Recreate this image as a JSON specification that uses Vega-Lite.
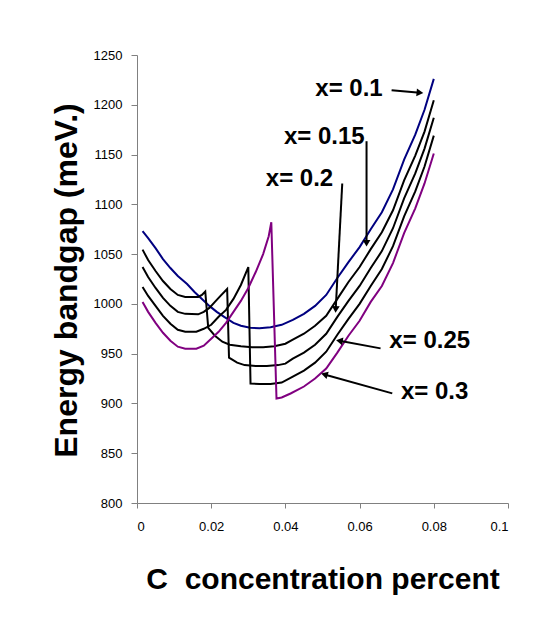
{
  "$schema": "https://vega.github.io/schema/vega-lite/v6.json",
  "width": 371,
  "height": 448,
  "autosize": {"type": "none"},
  "padding": {"left": 137, "top": 55, "right": 28, "bottom": 124},
  "background": "white",
  "config": {
    "view": {"stroke": null},
    "axis": {
      "grid": false,
      "domainColor": "#808080",
      "tickColor": "#808080",
      "labelFont": "Liberation Sans",
      "labelFontSize": 13,
      "labelColor": "black",
      "titleFont": "Liberation Sans",
      "titleFontWeight": "bold",
      "titleColor": "black"
    }
  },
  "datasets": {
    "curves": [
      {"s": "x=0.1", "c": 0.0015, "E": 1073}, {"s": "x=0.1", "c": 0.003, "E": 1066}, {"s": "x=0.1", "c": 0.005, "E": 1056}, {"s": "x=0.1", "c": 0.007, "E": 1045}, {"s": "x=0.1", "c": 0.009, "E": 1036}, {"s": "x=0.1", "c": 0.011, "E": 1028}, {"s": "x=0.1", "c": 0.0135, "E": 1020}, {"s": "x=0.1", "c": 0.0155, "E": 1012}, {"s": "x=0.1", "c": 0.0175, "E": 1005}, {"s": "x=0.1", "c": 0.0195, "E": 998}, {"s": "x=0.1", "c": 0.0215, "E": 992}, {"s": "x=0.1", "c": 0.0235, "E": 987}, {"s": "x=0.1", "c": 0.026, "E": 981}, {"s": "x=0.1", "c": 0.028, "E": 978}, {"s": "x=0.1", "c": 0.0305, "E": 976}, {"s": "x=0.1", "c": 0.033, "E": 975.5}, {"s": "x=0.1", "c": 0.036, "E": 976.5}, {"s": "x=0.1", "c": 0.039, "E": 979}, {"s": "x=0.1", "c": 0.042, "E": 984}, {"s": "x=0.1", "c": 0.045, "E": 990}, {"s": "x=0.1", "c": 0.048, "E": 998}, {"s": "x=0.1", "c": 0.051, "E": 1009}, {"s": "x=0.1", "c": 0.054, "E": 1026}, {"s": "x=0.1", "c": 0.057, "E": 1042}, {"s": "x=0.1", "c": 0.06, "E": 1057}, {"s": "x=0.1", "c": 0.063, "E": 1075}, {"s": "x=0.1", "c": 0.066, "E": 1092}, {"s": "x=0.1", "c": 0.069, "E": 1115}, {"s": "x=0.1", "c": 0.072, "E": 1145}, {"s": "x=0.1", "c": 0.075, "E": 1170}, {"s": "x=0.1", "c": 0.0775, "E": 1195}, {"s": "x=0.1", "c": 0.08, "E": 1226},

      {"s": "x=0.15", "c": 0.0015, "E": 1054.5}, {"s": "x=0.15", "c": 0.003, "E": 1044}, {"s": "x=0.15", "c": 0.005, "E": 1033}, {"s": "x=0.15", "c": 0.007, "E": 1023}, {"s": "x=0.15", "c": 0.009, "E": 1015}, {"s": "x=0.15", "c": 0.011, "E": 1009}, {"s": "x=0.15", "c": 0.013, "E": 1007}, {"s": "x=0.15", "c": 0.0165, "E": 1007}, {"s": "x=0.15", "c": 0.0175, "E": 1009}, {"s": "x=0.15", "c": 0.0184, "E": 1012.5}, {"s": "x=0.15", "c": 0.0192, "E": 976}, {"s": "x=0.15", "c": 0.021, "E": 968}, {"s": "x=0.15", "c": 0.023, "E": 962}, {"s": "x=0.15", "c": 0.025, "E": 959}, {"s": "x=0.15", "c": 0.028, "E": 957.5}, {"s": "x=0.15", "c": 0.031, "E": 956.5}, {"s": "x=0.15", "c": 0.034, "E": 956.5}, {"s": "x=0.15", "c": 0.037, "E": 957.5}, {"s": "x=0.15", "c": 0.04, "E": 960}, {"s": "x=0.15", "c": 0.042, "E": 964}, {"s": "x=0.15", "c": 0.045, "E": 970}, {"s": "x=0.15", "c": 0.048, "E": 978}, {"s": "x=0.15", "c": 0.051, "E": 988}, {"s": "x=0.15", "c": 0.054, "E": 1005}, {"s": "x=0.15", "c": 0.057, "E": 1022}, {"s": "x=0.15", "c": 0.06, "E": 1037}, {"s": "x=0.15", "c": 0.063, "E": 1055}, {"s": "x=0.15", "c": 0.066, "E": 1072}, {"s": "x=0.15", "c": 0.069, "E": 1094}, {"s": "x=0.15", "c": 0.072, "E": 1124}, {"s": "x=0.15", "c": 0.075, "E": 1149}, {"s": "x=0.15", "c": 0.0775, "E": 1173}, {"s": "x=0.15", "c": 0.08, "E": 1204.5},

      {"s": "x=0.2", "c": 0.0015, "E": 1037}, {"s": "x=0.2", "c": 0.003, "E": 1027}, {"s": "x=0.2", "c": 0.005, "E": 1016}, {"s": "x=0.2", "c": 0.007, "E": 1006}, {"s": "x=0.2", "c": 0.009, "E": 998}, {"s": "x=0.2", "c": 0.011, "E": 992}, {"s": "x=0.2", "c": 0.013, "E": 990}, {"s": "x=0.2", "c": 0.0165, "E": 989.5}, {"s": "x=0.2", "c": 0.018, "E": 992}, {"s": "x=0.2", "c": 0.0195, "E": 996}, {"s": "x=0.2", "c": 0.021, "E": 1002}, {"s": "x=0.2", "c": 0.0225, "E": 1008}, {"s": "x=0.2", "c": 0.0243, "E": 1015}, {"s": "x=0.2", "c": 0.0248, "E": 946}, {"s": "x=0.2", "c": 0.027, "E": 941}, {"s": "x=0.2", "c": 0.029, "E": 938.5}, {"s": "x=0.2", "c": 0.032, "E": 937.5}, {"s": "x=0.2", "c": 0.035, "E": 937.5}, {"s": "x=0.2", "c": 0.038, "E": 938.5}, {"s": "x=0.2", "c": 0.04, "E": 940}, {"s": "x=0.2", "c": 0.042, "E": 945}, {"s": "x=0.2", "c": 0.045, "E": 951}, {"s": "x=0.2", "c": 0.048, "E": 959}, {"s": "x=0.2", "c": 0.051, "E": 970}, {"s": "x=0.2", "c": 0.054, "E": 987}, {"s": "x=0.2", "c": 0.057, "E": 1003}, {"s": "x=0.2", "c": 0.06, "E": 1018}, {"s": "x=0.2", "c": 0.063, "E": 1036}, {"s": "x=0.2", "c": 0.066, "E": 1053}, {"s": "x=0.2", "c": 0.069, "E": 1076}, {"s": "x=0.2", "c": 0.072, "E": 1106}, {"s": "x=0.2", "c": 0.075, "E": 1131}, {"s": "x=0.2", "c": 0.0775, "E": 1156}, {"s": "x=0.2", "c": 0.08, "E": 1187},

      {"s": "x=0.25", "c": 0.0015, "E": 1017}, {"s": "x=0.25", "c": 0.003, "E": 1008}, {"s": "x=0.25", "c": 0.005, "E": 998}, {"s": "x=0.25", "c": 0.007, "E": 988}, {"s": "x=0.25", "c": 0.009, "E": 980}, {"s": "x=0.25", "c": 0.011, "E": 974}, {"s": "x=0.25", "c": 0.013, "E": 972}, {"s": "x=0.25", "c": 0.016, "E": 972}, {"s": "x=0.25", "c": 0.018, "E": 975}, {"s": "x=0.25", "c": 0.02, "E": 979}, {"s": "x=0.25", "c": 0.022, "E": 987}, {"s": "x=0.25", "c": 0.024, "E": 994}, {"s": "x=0.25", "c": 0.026, "E": 1005}, {"s": "x=0.25", "c": 0.028, "E": 1019}, {"s": "x=0.25", "c": 0.03, "E": 1037}, {"s": "x=0.25", "c": 0.0306, "E": 920}, {"s": "x=0.25", "c": 0.033, "E": 919.5}, {"s": "x=0.25", "c": 0.036, "E": 919.5}, {"s": "x=0.25", "c": 0.039, "E": 921}, {"s": "x=0.25", "c": 0.042, "E": 927}, {"s": "x=0.25", "c": 0.045, "E": 933}, {"s": "x=0.25", "c": 0.048, "E": 941}, {"s": "x=0.25", "c": 0.051, "E": 952}, {"s": "x=0.25", "c": 0.054, "E": 969}, {"s": "x=0.25", "c": 0.057, "E": 985}, {"s": "x=0.25", "c": 0.06, "E": 1000}, {"s": "x=0.25", "c": 0.063, "E": 1018}, {"s": "x=0.25", "c": 0.066, "E": 1035}, {"s": "x=0.25", "c": 0.069, "E": 1058}, {"s": "x=0.25", "c": 0.072, "E": 1088}, {"s": "x=0.25", "c": 0.075, "E": 1113}, {"s": "x=0.25", "c": 0.0775, "E": 1138}, {"s": "x=0.25", "c": 0.08, "E": 1169},

      {"s": "x=0.3", "c": 0.0015, "E": 1002}, {"s": "x=0.3", "c": 0.003, "E": 992}, {"s": "x=0.3", "c": 0.005, "E": 981}, {"s": "x=0.3", "c": 0.007, "E": 971}, {"s": "x=0.3", "c": 0.009, "E": 963}, {"s": "x=0.3", "c": 0.011, "E": 957}, {"s": "x=0.3", "c": 0.013, "E": 955}, {"s": "x=0.3", "c": 0.016, "E": 955}, {"s": "x=0.3", "c": 0.018, "E": 958}, {"s": "x=0.3", "c": 0.02, "E": 965}, {"s": "x=0.3", "c": 0.022, "E": 972}, {"s": "x=0.3", "c": 0.024, "E": 981}, {"s": "x=0.3", "c": 0.026, "E": 992}, {"s": "x=0.3", "c": 0.028, "E": 1003}, {"s": "x=0.3", "c": 0.03, "E": 1016}, {"s": "x=0.3", "c": 0.032, "E": 1032}, {"s": "x=0.3", "c": 0.034, "E": 1050}, {"s": "x=0.3", "c": 0.0355, "E": 1068}, {"s": "x=0.3", "c": 0.0362, "E": 1082}, {"s": "x=0.3", "c": 0.0376, "E": 905}, {"s": "x=0.3", "c": 0.039, "E": 906}, {"s": "x=0.3", "c": 0.0414, "E": 910}, {"s": "x=0.3", "c": 0.045, "E": 917}, {"s": "x=0.3", "c": 0.048, "E": 925}, {"s": "x=0.3", "c": 0.0495, "E": 930}, {"s": "x=0.3", "c": 0.051, "E": 935}, {"s": "x=0.3", "c": 0.054, "E": 951}, {"s": "x=0.3", "c": 0.057, "E": 968}, {"s": "x=0.3", "c": 0.06, "E": 983}, {"s": "x=0.3", "c": 0.063, "E": 1002}, {"s": "x=0.3", "c": 0.066, "E": 1018}, {"s": "x=0.3", "c": 0.069, "E": 1041}, {"s": "x=0.3", "c": 0.072, "E": 1071}, {"s": "x=0.3", "c": 0.075, "E": 1096}, {"s": "x=0.3", "c": 0.0775, "E": 1121}, {"s": "x=0.3", "c": 0.08, "E": 1151}
    ],
    "labels": [
      {"label": "x= 0.1", "c": 0.05715, "E": 1215.6},
      {"label": "x= 0.15", "c": 0.0505, "E": 1167.4},
      {"label": "x= 0.2", "c": 0.0438, "E": 1125.2},
      {"label": "x= 0.25", "c": 0.0789, "E": 962.6},
      {"label": "x= 0.3", "c": 0.08022, "E": 911.5}
    ],
    "arrows": [
      {"c": 0.06862, "E": 1214.6, "c2": 0.07626, "E2": 1212.2, "angle": 95},
      {"c": 0.06187, "E": 1163.4, "c2": 0.06187, "E2": 1060.9, "angle": 180},
      {"c": 0.05532, "E": 1120.9, "c2": 0.05356, "E2": 994.4, "angle": 183},
      {"c": 0.06565, "E": 955.3, "c2": 0.05456, "E2": 962.9, "angle": 280},
      {"c": 0.06881, "E": 910.1, "c2": 0.05051, "E2": 929.1, "angle": 286}
    ]
  },
  "layer": [
    {
      "data": {"name": "curves"},
      "mark": {"type": "line", "strokeWidth": 2, "clip": true},
      "encoding": {
        "x": {
          "field": "c", "type": "quantitative",
          "scale": {"domain": [0, 0.1], "nice": false},
          "axis": {
            "values": [0, 0.02, 0.04, 0.06, 0.08, 0.1],
            "format": "~g",
            "tickSize": 5,
            "labelPadding": 12,
            "title": "C\u00a0 concentration percent",
            "titleFontSize": 30,
            "titleBaseline": "alphabetic",
            "titleY": 85
          }
        },
        "y": {
          "field": "E", "type": "quantitative",
          "scale": {"domain": [800, 1250], "nice": false, "zero": false},
          "axis": {
            "values": [800, 850, 900, 950, 1000, 1050, 1100, 1150, 1200, 1250],
            "format": "d",
            "tickSize": 6,
            "labelPadding": 9,
            "title": "Energy bandgap (meV.)",
            "titleFontSize": 32,
            "titleBaseline": "alphabetic",
            "titleX": -61,
            "titleY": 225
          }
        },
        "color": {
          "field": "s", "type": "nominal",
          "scale": {
            "domain": ["x=0.1", "x=0.15", "x=0.2", "x=0.25", "x=0.3"],
            "range": ["#000080", "#000000", "#000000", "#000000", "#800080"]
          },
          "legend": null
        },
        "order": {"value": null}
      }
    },
    {
      "data": {"name": "arrows"},
      "mark": {"type": "rule", "strokeWidth": 2, "color": "black"},
      "encoding": {
        "x": {"field": "c", "type": "quantitative"},
        "y": {"field": "E", "type": "quantitative"},
        "x2": {"field": "c2"},
        "y2": {"field": "E2"}
      }
    },
    {
      "data": {"name": "arrows"},
      "mark": {"type": "point", "shape": "triangle-up", "filled": true, "color": "black", "size": 60, "opacity": 1},
      "encoding": {
        "x": {"field": "c2", "type": "quantitative"},
        "y": {"field": "E2", "type": "quantitative"},
        "angle": {"field": "angle", "type": "quantitative", "scale": null}
      }
    },
    {
      "data": {"name": "labels"},
      "mark": {"type": "text", "font": "Liberation Sans", "fontWeight": "bold", "fontSize": 24, "align": "center", "baseline": "middle", "color": "black"},
      "encoding": {
        "x": {"field": "c", "type": "quantitative"},
        "y": {"field": "E", "type": "quantitative"},
        "text": {"field": "label"}
      }
    }
  ]
}
